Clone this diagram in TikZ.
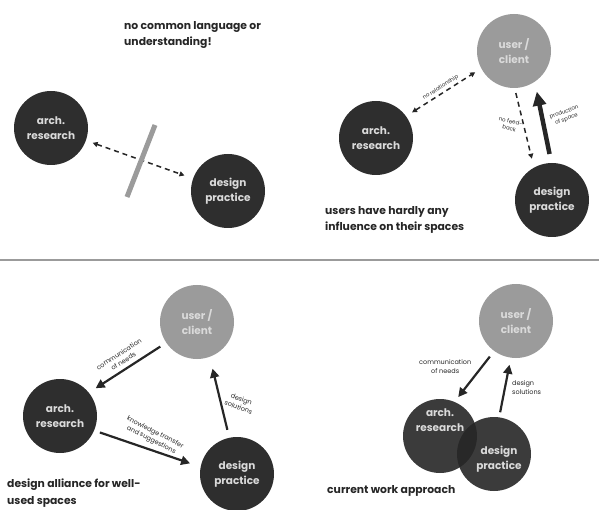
\documentclass[tikz,border=0pt]{standalone}
\usepackage{fontspec}
\setmainfont{Poppins}
\usetikzlibrary{arrows.meta, positioning}
\definecolor{myDark}{HTML}{2E2E2E}
\definecolor{myGray}{HTML}{9B9B9B}
\definecolor{myText}{HTML}{DADADA}
\definecolor{myInk}{HTML}{262626}

\begin{document}
\begin{tikzpicture}[
x=1pt, y=-1pt,
darkcirc/.style={circle, fill=myDark, minimum size=74pt, inner sep=0pt, align=center, text=myText, font=\bfseries\fontsize{10.5}{15.5}\selectfont},
usercirc/.style={darkcirc, fill=myGray},
arrow/.style={>={Triangle[length=9pt, width=9pt]}, ->, line width=2.2pt, myInk},
fatarrow/.style={>={Triangle[length=14pt, width=13pt]}, ->, line width=4.5pt, myInk},
dashline/.style={>={Triangle[length=5pt, width=5pt]}, dash pattern=on 5pt off 4pt, line width=1.5pt, myInk},
smalltxt/.style={font=\fontsize{6.5}{8.5}\selectfont, text=myInk, align=center, inner sep=2pt},
tinytxt/.style={smalltxt, font=\fontsize{5.5}{7}\selectfont},
headtxt/.style={font=\bfseries\fontsize{10.8}{16.5}\selectfont, text=myInk, align=left, anchor=west, inner sep=0pt}
]
\useasboundingbox (0,0) rectangle (599,510);

% no common language
\node[headtxt] (lang) at (124,35) {no common language or\\understanding!};
\node[darkcirc] (arch1) at (51,128) {arch.\\research};
\node[darkcirc] (design1) at (228,191) {design\\practice};
\draw[dashline, <->, shorten <=7pt, shorten >=9pt] (arch1) -- (design1);
\draw[myGray, line width=5pt] (155,125) -- (127,197);

% users without influence
\node[usercirc] (user2) at (514,51) {user /\\client};
\node[darkcirc] (arch2) at (376,138) {arch.\\research};
\node[darkcirc] (design2) at (552,200) {design\\practice};
\draw[dashline, <->, shorten <=7pt, shorten >=7pt] (arch2.36) -- (user2.208)
  node[midway, sloped, above, tinytxt] {no relationship};
\draw[dashline, ->, shorten <=5pt, shorten >=9pt] (user2.-89) -- (design2.119)
  node[midway, left, tinytxt, rotate=-12] {no feed-\\back};
\draw[fatarrow, shorten <=9pt, shorten >=10pt] (design2.91) -- (user2.-56)
  node[midway, right=4pt, tinytxt, rotate=20] {production\\of space};
\node[headtxt] (hardly) at (325,220) {users have hardly any\\influence on their spaces};

\draw[myGray, line width=2pt] (0,260) -- (599,260);

% design alliance
\node[usercirc] (user3) at (197,322) {user /\\client};
\node[darkcirc] (arch3) at (60,416) {arch.\\research};
\node[darkcirc] (design3) at (237,474) {design\\practice};
\draw[arrow, shorten <=7pt, shorten >=8pt] (user3.214) -- (arch3.39)
  node[midway, sloped, above=2pt, smalltxt] {communication\\of needs};
\draw[arrow, shorten <=6pt, shorten >=11pt] (arch3.-23) -- (design3.169)
  node[midway, sloped, above=3pt, smalltxt, rotate=-8] {knowledge transfer\\and suggestions};
\draw[arrow, shorten <=8pt, shorten >=12pt] (design3.102) -- (user3.-70)
  node[midway, right=4pt, smalltxt, rotate=-20] {design\\solutions};
\node[headtxt] (alliance) at (7,493) {design alliance for well-\\used spaces};

% current approach
\node[usercirc] (user4) at (516,321) {user /\\client};
\node[darkcirc, fill=black!85, fill opacity=0.9, text opacity=1,
  label={[text=myText, font=\bfseries\fontsize{10.5}{15.5}\selectfont, align=center, yshift=16pt]center:arch.\\research}] (arch4) at (440,436) {};
\node[darkcirc, fill=black!85, fill opacity=0.9, text opacity=1,
  label={[text=myText, font=\bfseries\fontsize{10.5}{15.5}\selectfont, align=center, xshift=5pt, yshift=-5pt]center:design\\practice}] (design4) at (494,454) {};
\draw[arrow, shorten <=7pt, shorten >=6pt] (user4.234) -- (arch4.67)
  node[midway, anchor=south east, smalltxt] {communication\\of needs};
\draw[arrow, shorten <=5pt, shorten >=7pt] (design4.82) -- (user4.262)
  node[midway, right=4pt, smalltxt, align=left] {design\\solutions};
\node[headtxt] (current) at (327,491) {current work approach};
\end{tikzpicture}
\end{document}
